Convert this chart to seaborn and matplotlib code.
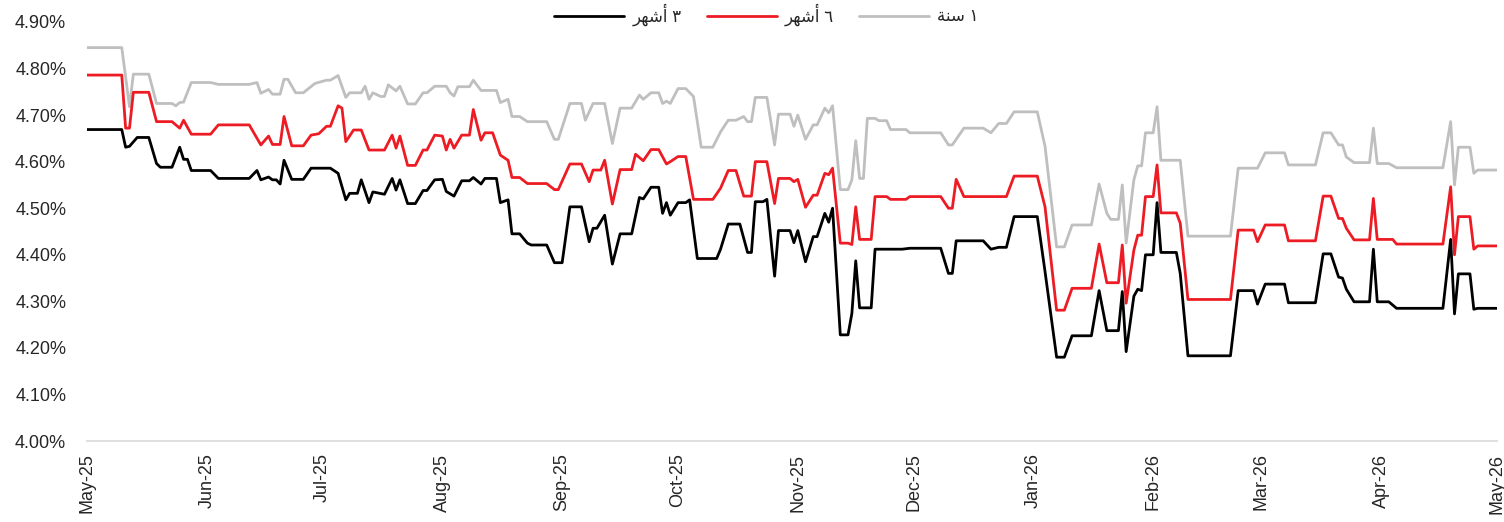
import pandas as pd
import numpy as np
import matplotlib
matplotlib.use("Agg")
import matplotlib.pyplot as plt
import matplotlib.dates as mdates
from matplotlib.ticker import MultipleLocator, FuncFormatter
from matplotlib.lines import Line2D
import seaborn as sns

# 1 year rate (grey)
gray_dates = [
    "2025-05-01", "2025-05-10", "2025-05-12", "2025-05-13", "2025-05-17", "2025-05-19",
    "2025-05-23", "2025-05-24", "2025-05-25", "2025-05-26", "2025-05-28", "2025-06-02",
    "2025-06-04", "2025-06-12", "2025-06-14", "2025-06-15", "2025-06-17", "2025-06-18",
    "2025-06-20", "2025-06-21", "2025-06-22", "2025-06-24", "2025-06-26", "2025-06-29",
    "2025-07-02", "2025-07-03", "2025-07-05", "2025-07-07", "2025-07-08", "2025-07-11",
    "2025-07-12", "2025-07-13", "2025-07-14", "2025-07-16", "2025-07-17", "2025-07-18",
    "2025-07-20", "2025-07-21", "2025-07-23", "2025-07-25", "2025-07-27", "2025-07-28",
    "2025-07-30", "2025-08-02", "2025-08-03", "2025-08-04", "2025-08-05", "2025-08-08",
    "2025-08-09", "2025-08-11", "2025-08-15", "2025-08-16", "2025-08-18", "2025-08-19",
    "2025-08-21", "2025-08-23", "2025-08-28", "2025-08-30", "2025-08-31", "2025-09-03",
    "2025-09-06", "2025-09-07", "2025-09-09", "2025-09-12", "2025-09-14", "2025-09-16",
    "2025-09-19", "2025-09-21", "2025-09-22", "2025-09-24", "2025-09-26", "2025-09-27",
    "2025-09-28", "2025-09-29", "2025-10-01", "2025-10-03", "2025-10-05", "2025-10-07",
    "2025-10-10", "2025-10-12", "2025-10-14", "2025-10-16", "2025-10-18", "2025-10-19",
    "2025-10-20", "2025-10-21", "2025-10-24", "2025-10-26", "2025-10-27", "2025-10-30",
    "2025-10-31", "2025-11-01", "2025-11-03", "2025-11-05", "2025-11-06", "2025-11-08",
    "2025-11-09", "2025-11-10", "2025-11-12", "2025-11-14", "2025-11-15", "2025-11-16",
    "2025-11-17", "2025-11-18", "2025-11-19", "2025-11-21", "2025-11-22", "2025-11-24",
    "2025-11-25", "2025-11-29", "2025-11-30", "2025-12-08", "2025-12-10", "2025-12-11",
    "2025-12-14", "2025-12-19", "2025-12-21", "2025-12-23", "2025-12-25", "2025-12-27",
    "2026-01-02", "2026-01-04", "2026-01-07", "2026-01-09", "2026-01-11", "2026-01-16",
    "2026-01-18", "2026-01-20", "2026-01-21", "2026-01-23", "2026-01-24", "2026-01-25",
    "2026-01-27", "2026-01-28", "2026-01-29", "2026-01-30", "2026-02-01", "2026-02-02",
    "2026-02-03", "2026-02-08", "2026-02-10", "2026-02-21", "2026-02-23", "2026-02-28",
    "2026-03-02", "2026-03-07", "2026-03-08", "2026-03-15", "2026-03-17", "2026-03-19",
    "2026-03-21", "2026-03-22", "2026-03-23", "2026-03-25", "2026-03-29", "2026-03-30",
    "2026-03-31", "2026-04-03", "2026-04-05", "2026-04-17", "2026-04-19", "2026-04-20",
    "2026-04-21", "2026-04-24", "2026-04-25", "2026-04-26", "2026-05-01",
]
gray_values = [
    4.845, 4.845, 4.718, 4.788, 4.788, 4.725,
    4.725, 4.720, 4.727, 4.728, 4.770, 4.770,
    4.766, 4.766, 4.770, 4.747, 4.755, 4.745,
    4.745, 4.777, 4.777, 4.748, 4.748, 4.768,
    4.775, 4.775, 4.785, 4.738, 4.748, 4.748,
    4.762, 4.734, 4.748, 4.740, 4.740, 4.765,
    4.752, 4.762, 4.724, 4.724, 4.748, 4.748,
    4.762, 4.762, 4.748, 4.741, 4.761, 4.761,
    4.775, 4.753, 4.753, 4.727, 4.734, 4.697,
    4.697, 4.686, 4.686, 4.648, 4.648, 4.725,
    4.725, 4.689, 4.725, 4.725, 4.639, 4.715,
    4.715, 4.743, 4.734, 4.748, 4.748, 4.725,
    4.730, 4.725, 4.757, 4.757, 4.740, 4.631,
    4.631, 4.664, 4.689, 4.689, 4.697, 4.686,
    4.686, 4.738, 4.738, 4.636, 4.702, 4.702,
    4.676, 4.700, 4.648, 4.679, 4.679, 4.715,
    4.705, 4.720, 4.540, 4.540, 4.561, 4.645,
    4.564, 4.564, 4.693, 4.693, 4.688, 4.688,
    4.669, 4.669, 4.662, 4.662, 4.636, 4.636,
    4.672, 4.672, 4.662, 4.682, 4.682, 4.707,
    4.707, 4.633, 4.417, 4.417, 4.464, 4.464,
    4.552, 4.489, 4.476, 4.476, 4.550, 4.425,
    4.561, 4.591, 4.591, 4.662, 4.662, 4.718,
    4.603, 4.603, 4.440, 4.440, 4.586, 4.586,
    4.619, 4.619, 4.593, 4.593, 4.662, 4.662,
    4.636, 4.636, 4.610, 4.598, 4.598, 4.672,
    4.596, 4.596, 4.587, 4.587, 4.686, 4.550,
    4.631, 4.631, 4.575, 4.582, 4.582,
]

# 6 month rate (red)
red_dates = [
    "2025-05-01", "2025-05-10", "2025-05-11", "2025-05-12", "2025-05-13", "2025-05-17",
    "2025-05-19", "2025-05-23", "2025-05-25", "2025-05-26", "2025-05-28", "2025-06-02",
    "2025-06-04", "2025-06-12", "2025-06-15", "2025-06-17", "2025-06-18", "2025-06-20",
    "2025-06-21", "2025-06-23", "2025-06-26", "2025-06-28", "2025-06-30", "2025-07-02",
    "2025-07-03", "2025-07-05", "2025-07-06", "2025-07-07", "2025-07-09", "2025-07-11",
    "2025-07-13", "2025-07-17", "2025-07-19", "2025-07-20", "2025-07-21", "2025-07-23",
    "2025-07-25", "2025-07-27", "2025-07-28", "2025-07-30", "2025-08-01", "2025-08-02",
    "2025-08-03", "2025-08-04", "2025-08-06", "2025-08-08", "2025-08-09", "2025-08-11",
    "2025-08-12", "2025-08-14", "2025-08-16", "2025-08-18", "2025-08-19", "2025-08-21",
    "2025-08-23", "2025-08-28", "2025-08-30", "2025-08-31", "2025-09-03", "2025-09-06",
    "2025-09-08", "2025-09-09", "2025-09-11", "2025-09-12", "2025-09-14", "2025-09-16",
    "2025-09-19", "2025-09-20", "2025-09-22", "2025-09-24", "2025-09-26", "2025-09-28",
    "2025-09-29", "2025-10-01", "2025-10-03", "2025-10-05", "2025-10-10", "2025-10-12",
    "2025-10-14", "2025-10-16", "2025-10-18", "2025-10-20", "2025-10-21", "2025-10-24",
    "2025-10-26", "2025-10-27", "2025-10-30", "2025-10-31", "2025-11-01", "2025-11-03",
    "2025-11-05", "2025-11-06", "2025-11-08", "2025-11-09", "2025-11-10", "2025-11-12",
    "2025-11-14", "2025-11-15", "2025-11-16", "2025-11-17", "2025-11-20", "2025-11-21",
    "2025-11-24", "2025-11-25", "2025-11-29", "2025-11-30", "2025-12-08", "2025-12-10",
    "2025-12-11", "2025-12-12", "2025-12-14", "2025-12-25", "2025-12-27", "2026-01-02",
    "2026-01-04", "2026-01-07", "2026-01-09", "2026-01-11", "2026-01-16", "2026-01-18",
    "2026-01-20", "2026-01-23", "2026-01-24", "2026-01-25", "2026-01-27", "2026-01-28",
    "2026-01-29", "2026-01-30", "2026-02-01", "2026-02-02", "2026-02-03", "2026-02-07",
    "2026-02-08", "2026-02-10", "2026-02-21", "2026-02-23", "2026-02-27", "2026-02-28",
    "2026-03-02", "2026-03-07", "2026-03-08", "2026-03-15", "2026-03-17", "2026-03-19",
    "2026-03-21", "2026-03-22", "2026-03-23", "2026-03-25", "2026-03-29", "2026-03-30",
    "2026-03-31", "2026-04-04", "2026-04-05", "2026-04-17", "2026-04-19", "2026-04-20",
    "2026-04-21", "2026-04-24", "2026-04-25", "2026-04-26", "2026-05-01",
]
red_values = [
    4.786, 4.786, 4.672, 4.672, 4.749, 4.749,
    4.686, 4.686, 4.672, 4.689, 4.659, 4.659,
    4.679, 4.679, 4.636, 4.655, 4.637, 4.637,
    4.697, 4.634, 4.634, 4.657, 4.660, 4.676,
    4.676, 4.720, 4.715, 4.643, 4.668, 4.668,
    4.625, 4.625, 4.657, 4.629, 4.655, 4.592,
    4.592, 4.625, 4.625, 4.657, 4.655, 4.625,
    4.648, 4.629, 4.657, 4.657, 4.712, 4.646,
    4.662, 4.662, 4.614, 4.603, 4.566, 4.566,
    4.553, 4.553, 4.540, 4.540, 4.595, 4.595,
    4.557, 4.582, 4.582, 4.603, 4.509, 4.583,
    4.583, 4.616, 4.602, 4.626, 4.626, 4.595,
    4.600, 4.611, 4.611, 4.519, 4.519, 4.543,
    4.581, 4.581, 4.526, 4.526, 4.600, 4.600,
    4.510, 4.564, 4.564, 4.557, 4.562, 4.502,
    4.528, 4.528, 4.575, 4.572, 4.586, 4.425,
    4.425, 4.422, 4.503, 4.433, 4.433, 4.525,
    4.525, 4.519, 4.519, 4.525, 4.525, 4.500,
    4.500, 4.562, 4.525, 4.525, 4.569, 4.569,
    4.503, 4.281, 4.281, 4.328, 4.328, 4.423,
    4.340, 4.340, 4.421, 4.296, 4.410, 4.442,
    4.442, 4.525, 4.525, 4.593, 4.490, 4.490,
    4.468, 4.304, 4.304, 4.453, 4.453, 4.428,
    4.464, 4.464, 4.430, 4.430, 4.526, 4.526,
    4.478, 4.478, 4.457, 4.432, 4.432, 4.521,
    4.433, 4.433, 4.423, 4.423, 4.546, 4.400,
    4.482, 4.482, 4.412, 4.419, 4.419,
]

# 3 month rate (black)
black_dates = [
    "2025-05-01", "2025-05-10", "2025-05-11", "2025-05-12", "2025-05-14", "2025-05-17",
    "2025-05-19", "2025-05-20", "2025-05-23", "2025-05-25", "2025-05-26", "2025-05-27",
    "2025-05-28", "2025-06-02", "2025-06-04", "2025-06-12", "2025-06-14", "2025-06-15",
    "2025-06-17", "2025-06-18", "2025-06-19", "2025-06-20", "2025-06-21", "2025-06-23",
    "2025-06-26", "2025-06-28", "2025-07-03", "2025-07-05", "2025-07-07", "2025-07-08",
    "2025-07-10", "2025-07-11", "2025-07-13", "2025-07-14", "2025-07-17", "2025-07-19",
    "2025-07-20", "2025-07-21", "2025-07-23", "2025-07-25", "2025-07-27", "2025-07-28",
    "2025-07-30", "2025-08-01", "2025-08-02", "2025-08-04", "2025-08-06", "2025-08-08",
    "2025-08-09", "2025-08-11", "2025-08-12", "2025-08-15", "2025-08-16", "2025-08-18",
    "2025-08-19", "2025-08-21", "2025-08-23", "2025-08-24", "2025-08-28", "2025-08-30",
    "2025-09-01", "2025-09-03", "2025-09-06", "2025-09-08", "2025-09-09", "2025-09-10",
    "2025-09-12", "2025-09-14", "2025-09-16", "2025-09-19", "2025-09-21", "2025-09-22",
    "2025-09-24", "2025-09-26", "2025-09-27", "2025-09-28", "2025-09-29", "2025-10-01",
    "2025-10-03", "2025-10-04", "2025-10-06", "2025-10-11", "2025-10-12", "2025-10-14",
    "2025-10-17", "2025-10-19", "2025-10-20", "2025-10-21", "2025-10-23", "2025-10-24",
    "2025-10-26", "2025-10-27", "2025-10-30", "2025-10-31", "2025-11-01", "2025-11-03",
    "2025-11-05", "2025-11-06", "2025-11-08", "2025-11-09", "2025-11-10", "2025-11-12",
    "2025-11-14", "2025-11-15", "2025-11-16", "2025-11-17", "2025-11-20", "2025-11-21",
    "2025-11-28", "2025-11-30", "2025-12-08", "2025-12-10", "2025-12-11", "2025-12-12",
    "2025-12-19", "2025-12-21", "2025-12-23", "2025-12-25", "2025-12-27", "2026-01-02",
    "2026-01-04", "2026-01-07", "2026-01-09", "2026-01-11", "2026-01-16", "2026-01-18",
    "2026-01-20", "2026-01-23", "2026-01-24", "2026-01-25", "2026-01-27", "2026-01-28",
    "2026-01-29", "2026-01-30", "2026-02-01", "2026-02-02", "2026-02-03", "2026-02-07",
    "2026-02-08", "2026-02-10", "2026-02-21", "2026-02-23", "2026-02-27", "2026-02-28",
    "2026-03-02", "2026-03-07", "2026-03-08", "2026-03-15", "2026-03-17", "2026-03-19",
    "2026-03-21", "2026-03-22", "2026-03-23", "2026-03-25", "2026-03-29", "2026-03-30",
    "2026-03-31", "2026-04-03", "2026-04-05", "2026-04-17", "2026-04-19", "2026-04-20",
    "2026-04-21", "2026-04-24", "2026-04-25", "2026-04-26", "2026-05-01",
]
black_values = [
    4.669, 4.669, 4.631, 4.633, 4.652, 4.652,
    4.596, 4.588, 4.588, 4.631, 4.605, 4.605,
    4.581, 4.581, 4.564, 4.564, 4.581, 4.561,
    4.567, 4.561, 4.561, 4.552, 4.603, 4.562,
    4.562, 4.586, 4.586, 4.575, 4.518, 4.532,
    4.532, 4.561, 4.512, 4.535, 4.530, 4.564,
    4.539, 4.561, 4.510, 4.510, 4.538, 4.538,
    4.561, 4.562, 4.536, 4.526, 4.559, 4.559,
    4.566, 4.552, 4.564, 4.564, 4.512, 4.518,
    4.445, 4.445, 4.425, 4.421, 4.421, 4.383,
    4.383, 4.503, 4.503, 4.428, 4.457, 4.457,
    4.485, 4.380, 4.445, 4.445, 4.523, 4.520,
    4.545, 4.545, 4.489, 4.512, 4.485, 4.512,
    4.512, 4.518, 4.392, 4.392, 4.412, 4.466,
    4.466, 4.405, 4.405, 4.514, 4.514, 4.519,
    4.354, 4.452, 4.452, 4.426, 4.452, 4.385,
    4.439, 4.439, 4.489, 4.470, 4.500, 4.228,
    4.228, 4.274, 4.387, 4.286, 4.286, 4.412,
    4.412, 4.414, 4.414, 4.360, 4.360, 4.430,
    4.430, 4.412, 4.416, 4.416, 4.482, 4.482,
    4.364, 4.180, 4.180, 4.226, 4.226, 4.323,
    4.237, 4.237, 4.321, 4.192, 4.311, 4.326,
    4.323, 4.400, 4.400, 4.512, 4.405, 4.405,
    4.360, 4.183, 4.183, 4.323, 4.323, 4.294,
    4.337, 4.337, 4.297, 4.297, 4.402, 4.402,
    4.352, 4.350, 4.326, 4.299, 4.299, 4.412,
    4.299, 4.299, 4.285, 4.285, 4.433, 4.273,
    4.359, 4.359, 4.283, 4.285, 4.285,
]

# legend labels (Arabic, pre-shaped in visual order since matplotlib has no RTL shaping)
label_3m = "\ufeae\ufeec\ufeb7\ufe83 \u0663"   # ٣ أشهر
label_6m = "\ufeae\ufeec\ufeb7\ufe83 \u0666"   # ٦ أشهر
label_1y = "\ufe94\ufee8\ufeb3 \u0661"         # ١ سنة

colors = {"1y": "#bfbfbf", "6m": "#ed1c24", "3m": "#000000"}

sns.set_style("white")
plt.rcParams["font.family"] = ["Liberation Sans", "DejaVu Sans"]

frames = []
for name, d, v in [("1y", gray_dates, gray_values),
                   ("6m", red_dates, red_values),
                   ("3m", black_dates, black_values)]:
    assert len(d) == len(v), name
    frames.append(pd.DataFrame({"date": pd.to_datetime(d), "rate": v, "tenor": name}))
df = pd.concat(frames, ignore_index=True)

fig = plt.figure(figsize=(15.04, 5.22), dpi=100)
ax = fig.add_axes([87 / 1504, 81 / 522, 1410 / 1504, 419 / 522])

sns.lineplot(data=df, x="date", y="rate", hue="tenor", hue_order=["1y", "6m", "3m"],
             palette=colors, estimator=None, linewidth=2.0, legend=False, ax=ax)

ax.set_ylim(4.0, 4.9)
ax.yaxis.set_major_locator(MultipleLocator(0.1))
ax.yaxis.set_major_formatter(FuncFormatter(lambda v, p: f"{v:.2f}%"))
ax.set_xlim(pd.Timestamp("2025-05-01"), pd.Timestamp("2026-05-01"))
ax.xaxis.set_major_locator(mdates.MonthLocator())
ax.xaxis.set_major_formatter(mdates.DateFormatter("%b-%y"))
ax.set_xlabel("")
ax.set_ylabel("")

for s in ["top", "right", "left"]:
    ax.spines[s].set_visible(False)
ax.spines["bottom"].set_color("#d9d9d9")
ax.spines["bottom"].set_linewidth(1.2)

ax.tick_params(axis="y", length=0, pad=15, labelsize=13, labelcolor="#262626")
ax.tick_params(axis="x", length=5, width=1.2, color="#d9d9d9", pad=4,
               labelsize=13, labelcolor="#262626", labelrotation=90)

handles = [Line2D([], [], color=colors["3m"], lw=2.0),
           Line2D([], [], color=colors["6m"], lw=2.0),
           Line2D([], [], color=colors["1y"], lw=2.0)]
ax.legend(handles, [label_3m, label_6m, label_1y], loc="lower center",
          bbox_to_anchor=(0.482, 0.975), ncol=3, frameon=False, handlelength=4.2,
          handletextpad=0.5, columnspacing=1.5, borderaxespad=0,
          prop={"family": ["Liberation Sans", "DejaVu Sans"], "size": 12})

fig.savefig("out.png", dpi=100)
